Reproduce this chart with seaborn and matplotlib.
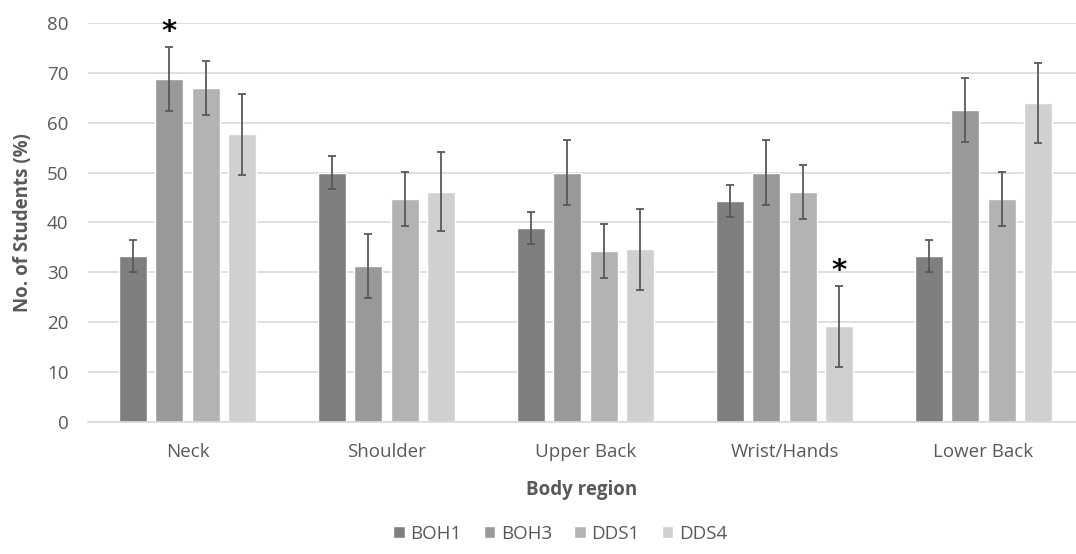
import matplotlib
matplotlib.use("Agg")
import matplotlib.pyplot as plt
import seaborn as sns
import pandas as pd
import numpy as np

regions = ["Neck", "Shoulder", "Upper Back", "Wrist/Hands", "Lower Back"]
groups = ["BOH1", "BOH3", "DDS1", "DDS4"]
boh1 = [33.3, 50.0, 38.9, 44.4, 33.3]
boh3 = [68.8, 31.3, 50.0, 50.0, 62.5]
dds1 = [67.0, 44.7, 34.2, 46.1, 44.7]
dds4 = [57.7, 46.2, 34.6, 19.2, 63.9]
err_boh1 = [3.2, 3.3, 3.2, 3.2, 3.2]
err_boh3 = [6.4, 6.4, 6.5, 6.5, 6.4]
err_dds1 = [5.4, 5.4, 5.4, 5.4, 5.4]
err_dds4 = [8.1, 8.0, 8.1, 8.1, 8.0]
colors = ["#7f7f7f", "#999999", "#b3b3b3", "#d0d0d0"]
# significance marks: (region, group)
signif = [("Neck", "BOH3"), ("Wrist/Hands", "DDS4")]

vals = [boh1, boh3, dds1, dds4]
errs = [err_boh1, err_boh3, err_dds1, err_dds4]
rows = []
for g, v, e in zip(groups, vals, errs):
    for r, vv, ee in zip(regions, v, e):
        rows.append({"Region": r, "Group": g, "Value": vv, "Err": ee})
df = pd.DataFrame(rows)

sns.set_theme(style="white")
plt.rcParams["font.family"] = ["Open Sans", "DejaVu Sans"]

fig = plt.figure(figsize=(10.76, 5.54), dpi=100)
ax = fig.add_axes([88/1076, 1-422/554, (1076-88)/1076, (422-23)/554])

sns.barplot(data=df, x="Region", y="Value", hue="Group", order=regions,
            hue_order=groups, palette=colors, width=0.733, gap=0.235,
            errorbar=None, ax=ax, legend=True, saturation=1)

# error bars at bar centres
for gi, g in enumerate(groups):
    cont = ax.containers[gi]
    for ri, patch in enumerate(cont.patches):
        xc = patch.get_x() + patch.get_width() / 2
        h = patch.get_height()
        e = errs[gi][ri]
        ax.errorbar(xc, h, yerr=e, color="#595959", lw=1.3, capsize=3,
                    capthick=1.3, zorder=5)
        if (regions[ri], g) in signif:
            ax.text(xc, h + e + 0.2, "*", ha="center", va="bottom",
                    fontsize=21, fontweight="bold", color="black",
                    family="DejaVu Sans")

ax.set_xlim(-0.5, 4.5 - 7/199)
ax.set_ylim(0, 80)
ax.set_yticks(range(0, 81, 10))
ax.yaxis.grid(True, color="#d9d9d9", lw=1.2)
ax.set_axisbelow(True)
for s in ["top", "right", "left"]:
    ax.spines[s].set_visible(False)
ax.spines["bottom"].set_color("#d9d9d9")
ax.spines["bottom"].set_linewidth(1.2)
ax.tick_params(axis="both", length=0, labelsize=13.5, colors="#595959")
ax.tick_params(axis="x", pad=15)
ax.tick_params(axis="y", pad=14)
ax.set_ylabel("No. of Students (%)", fontsize=13.5, fontweight="bold",
              color="#595959", labelpad=10)
ax.set_xlabel("Body region", fontsize=13.5, fontweight="bold",
              color="#595959", labelpad=14)

handles, labels = ax.get_legend_handles_labels()
ax.legend(handles, labels, loc="upper center", bbox_to_anchor=(0.478, -0.215),
          ncol=4, frameon=False, fontsize=13.5, handlelength=0.6,
          handleheight=0.6, columnspacing=1.2, handletextpad=0.3,
          labelcolor="#595959")

fig.savefig("out.png", dpi=100)
